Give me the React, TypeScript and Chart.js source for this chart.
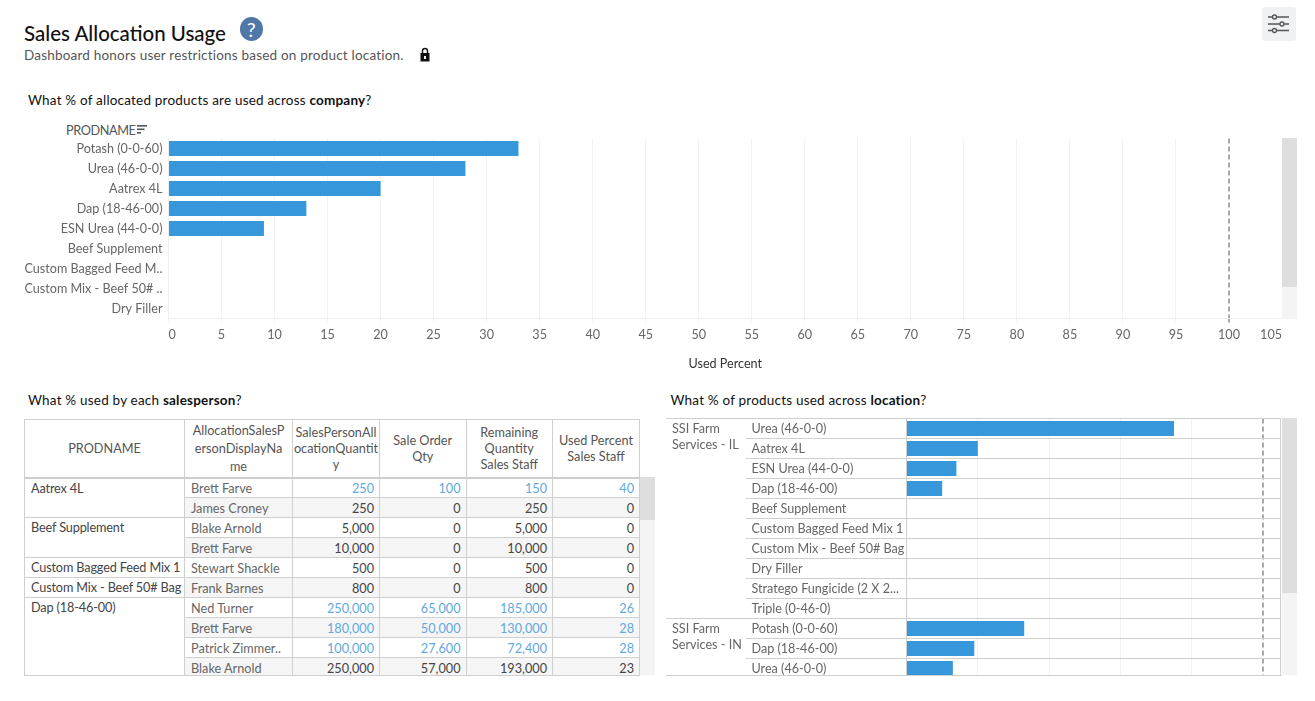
import React, { useEffect, useRef } from "react";
import { Chart, registerables } from "chart.js";

Chart.register(...registerables);

const FONT = "Lato, 'Noto Sans', sans-serif";
const BAR = "#3797db";
const LINE = "#cfcfcf";
const GRID = "#f2f2f2";
const REFERENCE = 100;

const companyProducts = ["Potash (0-0-60)", "Urea (46-0-0)", "Aatrex 4L", "Dap (18-46-00)", "ESN Urea (44-0-0)", "Beef Supplement", "Custom Bagged Feed M..", "Custom Mix - Beef 50# ..", "Dry Filler"];
const companyUsed = [33, 28, 20, 13, 9, 0, 0, 0, 0];

const locationProducts = ["Urea (46-0-0)", "Aatrex 4L", "ESN Urea (44-0-0)", "Dap (18-46-00)", "Beef Supplement", "Custom Bagged Feed Mix 1", "Custom Mix - Beef 50# Bag", "Dry Filler", "Stratego Fungicide (2 X 2...", "Triple (0-46-0)", "Potash (0-0-60)", "Dap (18-46-00)", "Urea (46-0-0)"];
const locationUsed = [75, 20, 14, 10, 0, 0, 0, 0, 0, 0, 33, 19, 13];
const locationGroups = [
  { lines: ["SSI Farm", "Services - IL"], rows: 10 },
  { lines: ["SSI Farm", "Services - IN"], rows: 3 },
];

const tableHeaders = [["PRODNAME"], ["AllocationSalesP", "ersonDisplayNa", "me"], ["SalesPersonAll", "ocationQuantit", "y"], ["Sale Order", "Qty"], ["Remaining", "Quantity", "Sales Staff"], ["Used Percent", "Sales Staff"]];
const tableProducts = [
  { name: "Aatrex 4L", rows: 2 },
  { name: "Beef Supplement", rows: 2 },
  { name: "Custom Bagged Feed Mix 1", rows: 1 },
  { name: "Custom Mix - Beef 50# Bag", rows: 1 },
  { name: "Dap (18-46-00)", rows: 4 },
];
const salesPeople = ["Brett Farve", "James Croney", "Blake Arnold", "Brett Farve", "Stewart Shackle", "Frank Barnes", "Ned Turner", "Brett Farve", "Patrick Zimmer..", "Blake Arnold"];
const allocated = ["250", "250", "5,000", "10,000", "500", "800", "250,000", "180,000", "100,000", "250,000"];
const orderQty = ["100", "0", "0", "0", "0", "0", "65,000", "50,000", "27,600", "57,000"];
const remaining = ["150", "250", "5,000", "10,000", "500", "800", "185,000", "130,000", "72,400", "193,000"];
const usedPercent = ["40", "0", "0", "0", "0", "0", "26", "28", "28", "23"];
const highlighted = [true, false, false, false, false, false, true, true, true, false];

const columnWidths = [160, 108, 87, 86.5, 86.5, 87];

function useBarChart(ref: React.RefObject<HTMLCanvasElement | null>, build: () => any) {
  useEffect(() => {
    const chart = new Chart(ref.current as HTMLCanvasElement, build());
    return () => chart.destroy();
  }, []);
}

const noPadding = (s: any) => {
  s.paddingTop = 0;
  s.paddingBottom = 0;
  s.paddingLeft = 0;
  s.paddingRight = 0;
};

function CompanyChart() {
  const ref = useRef<HTMLCanvasElement>(null);
  useBarChart(ref, () => ({
    type: "bar",
    data: {
      labels: companyProducts,
      datasets: [{ data: companyUsed, backgroundColor: BAR, barPercentage: 0.75, categoryPercentage: 1 }],
    },
    options: {
      indexAxis: "y",
      responsive: false,
      animation: false,
      layout: { padding: { top: 8.5, left: 0, right: 0, bottom: 0 } },
      plugins: { legend: { display: false }, tooltip: { enabled: false } },
      scales: {
        x: {
          min: 0,
          max: 105,
          afterFit: (s: any) => { s.height = 52.5; noPadding(s); },
          ticks: { stepSize: 5, autoSkip: false, maxRotation: 0, align: "inner", color: "#666", font: { family: FONT, size: 12.6 }, padding: 5 },
          grid: {
            color: (c: any) => (c.tick && c.tick.value === REFERENCE ? "#a8a8a8" : GRID),
            lineWidth: (c: any) => (c.tick && c.tick.value === REFERENCE ? 2 : 1),
            tickLength: 4,
          },
          border: { color: "#efefef", dash: (c: any) => (c.tick && c.tick.value === REFERENCE ? [5, 3] : []) },
          title: { display: true, text: "Used Percent", color: "#333", font: { family: FONT, size: 12.6 }, padding: 0 },
        },
        y: {
          afterFit: (s: any) => { s.width = 168.5; noPadding(s); },
          ticks: { color: "#666", font: { family: FONT, size: 12.6 }, padding: 6, autoSkip: false },
          grid: { display: false, drawTicks: false },
          border: { color: "#efefef" },
        },
      },
    },
  }));
  return <canvas ref={ref} width={1282} height={241} style={{ position: "absolute", left: 0, top: 130, width: 1282, height: 241 }} />;
}

function LocationChart() {
  const ref = useRef<HTMLCanvasElement>(null);
  useBarChart(ref, () => ({
    type: "bar",
    data: {
      labels: locationProducts,
      datasets: [{ data: locationUsed, backgroundColor: BAR, barPercentage: 0.75, categoryPercentage: 1 }],
    },
    options: {
      indexAxis: "y",
      responsive: false,
      animation: false,
      layout: { padding: { top: 0.5, left: 85.5, right: 0, bottom: 0 } },
      plugins: { legend: { display: false }, tooltip: { enabled: false } },
      scales: {
        x: {
          min: 0,
          max: 105,
          afterFit: (s: any) => { s.height = 1.5; noPadding(s); },
          ticks: { stepSize: 20, display: false, maxRotation: 0 },
          grid: {
            color: (c: any) => (c.tick && c.tick.value === REFERENCE ? "#a8a8a8" : GRID),
            lineWidth: (c: any) => (c.tick && c.tick.value === REFERENCE ? 2 : 1),
            drawTicks: false,
          },
          afterBuildTicks: (s: any) => { s.ticks = [...s.ticks.filter((t: any) => t.value <= 80), { value: REFERENCE }]; },
          border: { display: false, dash: (c: any) => (c.tick && c.tick.value === REFERENCE ? [5, 3] : []) },
        },
        y: {
          afterFit: (s: any) => { s.width = 155; noPadding(s); },
          ticks: { color: "#666", font: { family: FONT, size: 12.6 }, crossAlign: "far", autoSkip: false },
          grid: { offset: true, color: LINE, tickColor: LINE, tickLength: 161 },
          border: { color: LINE },
        },
      },
    },
  }));
  return <canvas ref={ref} width={615} height={262} style={{ position: "absolute", left: 0, top: 0, width: 615, height: 262 }} />;
}

function Abs({ x, y, w, h, bg, children, style }: any) {
  return <div style={{ position: "absolute", left: x, top: y, width: w, height: h, background: bg, ...style }}>{children}</div>;
}

function Label({ x, y, size = 13.5, color = "#111", children, style }: any) {
  return <div style={{ position: "absolute", left: x, top: y, fontSize: size, lineHeight: "18px", letterSpacing: 0.2, color, whiteSpace: "nowrap", ...style }}>{children}</div>;
}

function SalesTable() {
  const cell: React.CSSProperties = { border: `1px solid ${LINE}`, padding: 0, fontSize: 12.7, lineHeight: "18px", overflow: "hidden", whiteSpace: "nowrap", boxSizing: "border-box" };
  let next = 0;
  const starts = tableProducts.map((p) => { const s = next; next += p.rows; return s; });
  return (
    <div style={{ position: "absolute", left: 24, top: 418, width: 616, height: 258, overflow: "hidden", borderBottom: `1px solid ${LINE}`, boxSizing: "border-box" }}>
      <table style={{ borderCollapse: "collapse", tableLayout: "fixed", width: 615, position: "absolute", left: 0, top: 0.5, fontFamily: FONT }}>
        <colgroup>{columnWidths.map((w, i) => <col key={i} style={{ width: w }} />)}</colgroup>
        <thead>
          <tr style={{ height: 58.5 }}>
            {tableHeaders.map((lines, i) => (
              <th key={i} style={{ ...cell, fontWeight: 400, color: "#555", textAlign: "center", lineHeight: lines.length === 3 && i === 1 ? "18px" : "16px", borderBottomWidth: 2 }}>
                {lines.map((l, j) => <div key={j}>{l}</div>)}
              </th>
            ))}
          </tr>
        </thead>
        <tbody>
          {salesPeople.map((person, r) => {
            const color = highlighted[r] ? "#62a9de" : "#444";
            const bg = r % 2 ? "#f5f5f5" : "#fff";
            const g = starts.indexOf(r);
            return (
              <tr key={r} style={{ height: 20 }}>
                {g >= 0 && (
                  <td rowSpan={tableProducts[g].rows} style={{ ...cell, verticalAlign: "top", color: "#444", paddingLeft: 6, background: "#fff", letterSpacing: -0.15 }}>{tableProducts[g].name}</td>
                )}
                <td style={{ ...cell, color: "#666", paddingLeft: 6, background: bg }}>{person}</td>
                {[allocated[r], orderQty[r], remaining[r], usedPercent[r]].map((v, c) => (
                  <td key={c} style={{ ...cell, color, textAlign: "right", paddingRight: 5, background: bg }}>{v}</td>
                ))}
              </tr>
            );
          })}
        </tbody>
      </table>
    </div>
  );
}

function LocationGroups() {
  let row = 0;
  return (
    <>
      {locationGroups.map((g, i) => {
        const top = row * 20;
        row += g.rows;
        return (
          <div key={i} style={{ position: "absolute", left: 0, top, width: 80, height: g.rows * 20, borderTop: `1px solid ${LINE}`, boxSizing: "border-box" }}>
            <div style={{ paddingLeft: 6, paddingTop: 2, fontSize: 12.6, lineHeight: "16px", color: "#666", whiteSpace: "nowrap" }}>
              {g.lines.map((l) => <div key={l}>{l}</div>)}
            </div>
          </div>
        );
      })}
    </>
  );
}

export default function App() {
  return (
    <div style={{ position: "absolute", left: 0, top: 0, width: 1315, height: 701, overflow: "hidden", background: "#fff", fontFamily: FONT }}>
      <Label x={24} y={22} size={20.5} color="#111" style={{ lineHeight: "22px", fontWeight: 500, letterSpacing: 0 }}>Sales Allocation Usage</Label>
      <Abs x={239.5} y={17} w={23.5} h={24} bg="#4f78a8" style={{ borderRadius: "50%", color: "#fff", textAlign: "center", fontSize: 20, lineHeight: "24px" }}>?</Abs>
      <Label x={24} y={46} color="#555">Dashboard honors user restrictions based on product location.</Label>
      <svg style={{ position: "absolute", left: 419, top: 47 }} width="12" height="16" viewBox="0 0 12 16">
        <path d="M3.5 6 V4 a2.5 2.5 0 0 1 5 0 V6" fill="none" stroke="#111" strokeWidth="1.4" />
        <rect x="1.5" y="6" width="9" height="8.5" fill="#111" />
        <rect x="5" y="9" width="2" height="3" fill="#fff" />
      </svg>

      <Abs x={1262} y={7} w={34} h={34} bg="#f0f1f3" style={{ borderRadius: 3 }} />
      <svg style={{ position: "absolute", left: 1262, top: 7 }} width="34" height="34" viewBox="0 0 34 34" fill="none" stroke="#555" strokeWidth="1.3">
        <path d="M6 10 H27 M6 17 H27 M6 23.5 H27" />
        <circle cx="12.5" cy="10" r="2" fill="#f0f1f3" />
        <circle cx="20" cy="17" r="2" fill="#f0f1f3" />
        <circle cx="12.5" cy="23.5" r="2" fill="#f0f1f3" />
      </svg>

      <Label x={28} y={91}>What % of allocated products are used across <b>company</b>?</Label>
      <Label x={66} y={120.5} size={12.7} color="#555" style={{ letterSpacing: -0.4 }}>PRODNAME</Label>
      <svg style={{ position: "absolute", left: 137, top: 125 }} width="11" height="10" viewBox="0 0 11 10" fill="#555">
        <rect x="0" y="0" width="10" height="1.6" />
        <rect x="0" y="3.5" width="7.5" height="1.6" />
        <rect x="0" y="7" width="4" height="1.6" />
      </svg>
      <CompanyChart />
      <Abs x={1282} y={138} w={15} h={149} bg="#dedede" />
      <Abs x={1282} y={287} w={15} h={32} bg="#f4f4f4" />

      <Label x={28} y={391}>What % used by each <b>salesperson</b>?</Label>
      <SalesTable />
      <Abs x={640} y={477} w={15} h={43} bg="#dedede" />
      <Abs x={640} y={520} w={15} h={155} bg="#f4f4f4" />

      <Label x={670.5} y={391}>What % of products used across <b>location</b>?</Label>
      <div style={{ position: "absolute", left: 666, top: 418, width: 616, height: 258, overflow: "hidden", borderBottom: `1px solid ${LINE}`, boxSizing: "border-box" }}>
        <LocationChart />
        <LocationGroups />
        <Abs x={614} y={0} w={1} h={258} bg={LINE} />
      </div>
      <Abs x={1282} y={418} w={15} h={175} bg="#dedede" />
      <Abs x={1282} y={593} w={15} h={82} bg="#f4f4f4" />
    </div>
  );
}
